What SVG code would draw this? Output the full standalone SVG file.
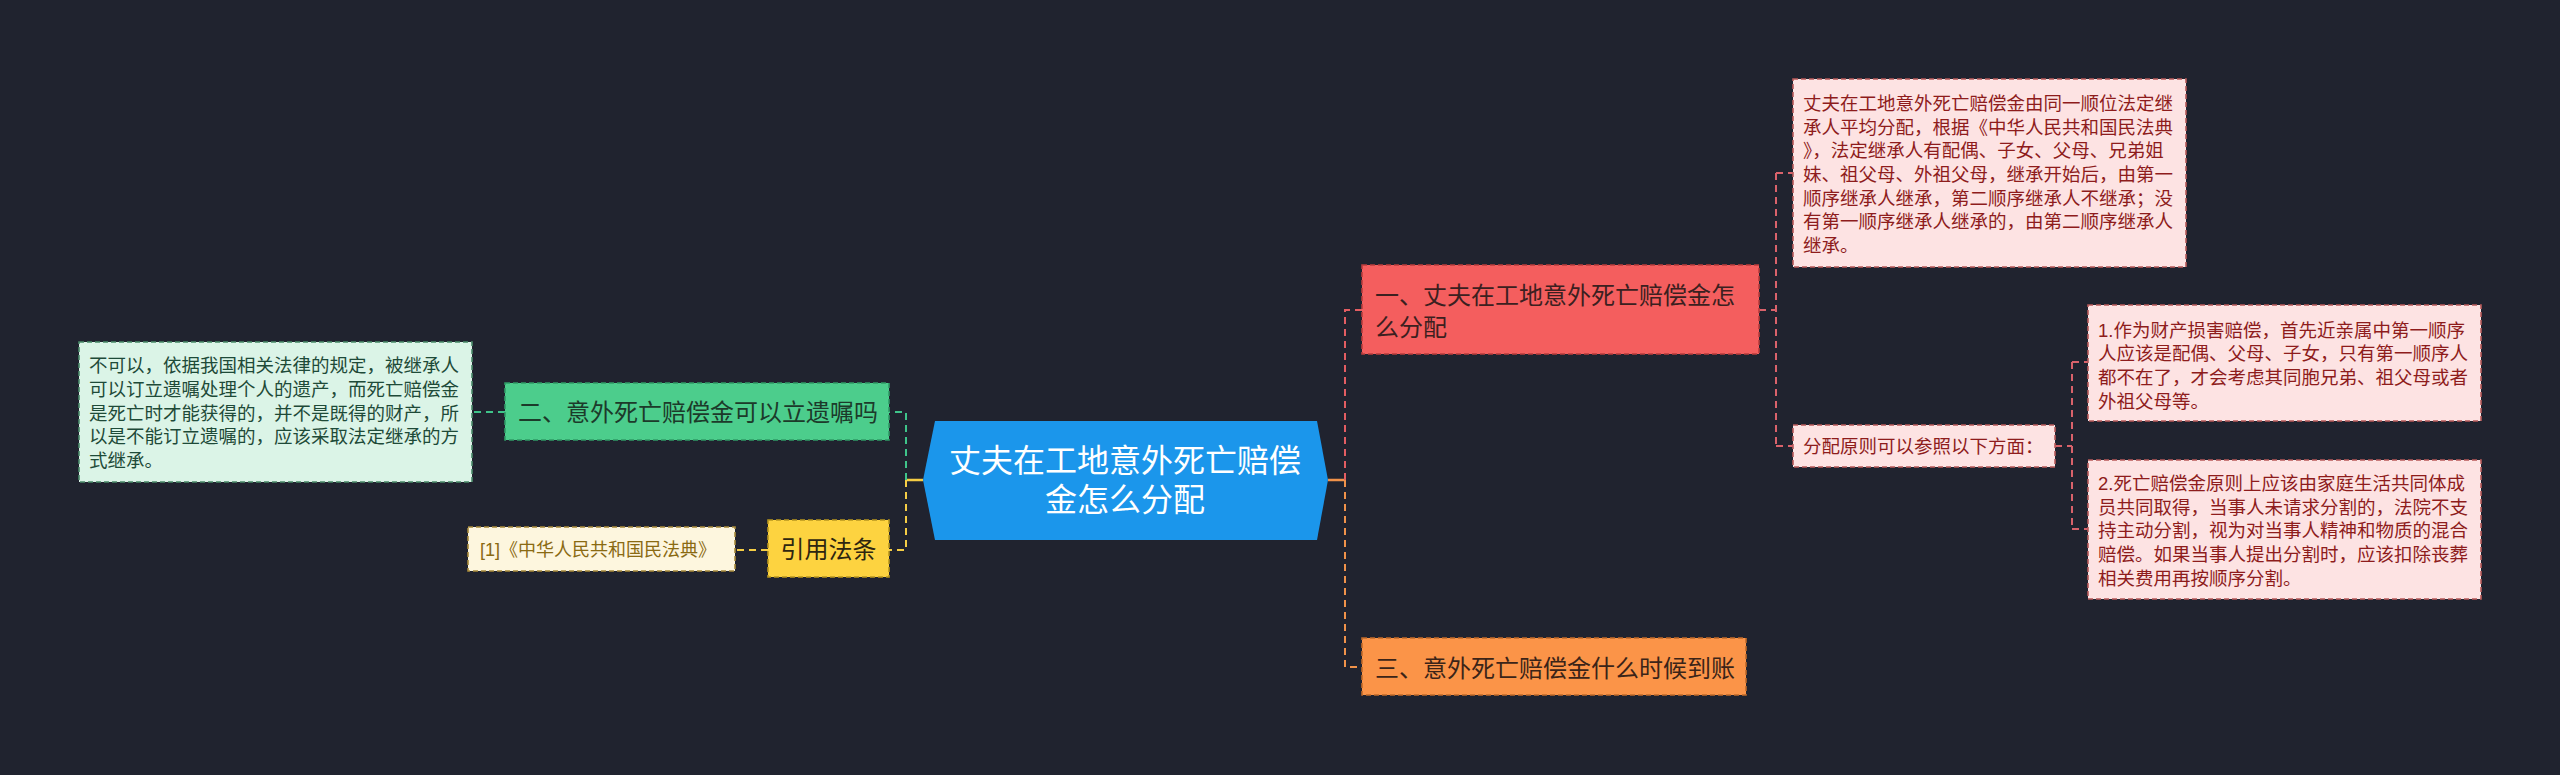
<svg xmlns="http://www.w3.org/2000/svg" width="2560" height="775" viewBox="0 0 2560 775">
<style>
text{font-family:"Liberation Sans","Noto Sans CJK SC",sans-serif;dominant-baseline:central;}
.conn{fill:none;stroke-width:2;stroke-dasharray:7 5;}
.solid{fill:none;stroke-width:2.5;}
.box{stroke-width:1.6;stroke-dasharray:5 3;}
.detail{font-size:18.5px;}
.lbl{font-size:24px;}
</style>
<rect width="2560" height="775" fill="#20232f"/>
<g id="connectors">
  <path class="solid" stroke="#f0924a" d="M1328 480H1345"/>
  <path class="conn" stroke="#e35d62" d="M1345 480V310H1362"/>
  <path class="conn" stroke="#f0924a" d="M1345 480V667H1362"/>
  <path class="solid" stroke="#f5cd45" d="M923 480H906"/>
  <path class="conn" stroke="#3fc48a" d="M906 480V412H889"/>
  <path class="conn" stroke="#f5cd45" d="M906 480V550H889"/>
  <path class="conn" stroke="#3fc48a" d="M505 412H472"/>
  <path class="conn" stroke="#f5cd45" d="M768 550H735"/>
  <path class="conn" stroke="#d9626b" d="M1759 310H1776M1776 173V446M1776 173H1793M1776 446H1793"/>
  <path class="conn" stroke="#d9626b" d="M2055 446H2072M2072 362V529M2072 362H2088M2072 529H2088"/>
</g>
<g id="root">
  <polygon points="923,480 935,421 1317,421 1328,480 1317,540 935,540" fill="#1b96eb"/>
  <text x="1125" y="461" font-size="32" fill="#ffffff" text-anchor="middle">丈夫在工地意外死亡赔偿</text>
  <text x="1125" y="500" font-size="32" fill="#ffffff" text-anchor="middle">金怎么分配</text>
</g>
<g id="n1">
  <rect class="box" x="1362" y="265" width="397" height="89" fill="#f45e5e" stroke="#b83c3c"/>
  <text class="lbl" x="1375" y="295" fill="#3b2020">一、丈夫在工地意外死亡赔偿金怎</text>
  <text class="lbl" x="1375" y="327" fill="#3b2020">么分配</text>
</g>
<g id="n1a">
  <rect class="box" x="1793" y="79" width="393" height="188" fill="#fde3e3" stroke="#b85a5a"/>
  <g class="detail" fill="#8e1c1c">
    <text x="1803" y="103.3">丈夫在工地意外死亡赔偿金由同一顺位法定继</text>
    <text x="1803" y="127">承人平均分配，根据《中华人民共和国民法典</text>
    <text x="1803" y="150.7">》，法定继承人有配偶、子女、父母、兄弟姐</text>
    <text x="1803" y="174.4">妹、祖父母、外祖父母，继承开始后，由第一</text>
    <text x="1803" y="198.1">顺序继承人继承，第二顺序继承人不继承；没</text>
    <text x="1803" y="221.8">有第一顺序继承人继承的，由第二顺序继承人</text>
    <text x="1803" y="245.5">继承。</text>
  </g>
</g>
<g id="n1b">
  <rect class="box" x="1793" y="425" width="262" height="42" fill="#fde3e3" stroke="#b85a5a"/>
  <text class="detail" x="1803" y="446.5" fill="#8e1c1c">分配原则可以参照以下方面：</text>
</g>
<g id="n1b1">
  <rect class="box" x="2088" y="305" width="393" height="116" fill="#fde3e3" stroke="#b85a5a"/>
  <g class="detail" fill="#8e1c1c">
    <text x="2098" y="330">1.作为财产损害赔偿，首先近亲属中第一顺序</text>
    <text x="2098" y="353.7">人应该是配偶、父母、子女，只有第一顺序人</text>
    <text x="2098" y="377.4">都不在了，才会考虑其同胞兄弟、祖父母或者</text>
    <text x="2098" y="401.1">外祖父母等。</text>
  </g>
</g>
<g id="n1b2">
  <rect class="box" x="2088" y="460" width="393" height="139" fill="#fde3e3" stroke="#b85a5a"/>
  <g class="detail" fill="#8e1c1c">
    <text x="2098" y="483.3">2.死亡赔偿金原则上应该由家庭生活共同体成</text>
    <text x="2098" y="507">员共同取得，当事人未请求分割的，法院不支</text>
    <text x="2098" y="530.7">持主动分割，视为对当事人精神和物质的混合</text>
    <text x="2098" y="554.4">赔偿。如果当事人提出分割时，应该扣除丧葬</text>
    <text x="2098" y="578.1">相关费用再按顺序分割。</text>
  </g>
</g>
<g id="n3">
  <rect class="box" x="1362" y="638" width="384" height="57" fill="#fb9448" stroke="#c06a2a"/>
  <text class="lbl" x="1375" y="668" fill="#3b2418">三、意外死亡赔偿金什么时候到账</text>
</g>
<g id="n2">
  <rect class="box" x="505" y="383" width="384" height="57" fill="#4ccd8c" stroke="#2f9a66"/>
  <text class="lbl" x="518" y="412.5" fill="#1c3a2a">二、意外死亡赔偿金可以立遗嘱吗</text>
</g>
<g id="n2a">
  <rect class="box" x="79" y="342" width="393" height="140" fill="#dbf4e7" stroke="#4a8a6a"/>
  <g class="detail" fill="#1e4a38">
    <text x="89" y="365.7">不可以，依据我国相关法律的规定，被继承人</text>
    <text x="89" y="389.4">可以订立遗嘱处理个人的遗产，而死亡赔偿金</text>
    <text x="89" y="413.1">是死亡时才能获得的，并不是既得的财产，所</text>
    <text x="89" y="436.8">以是不能订立遗嘱的，应该采取法定继承的方</text>
    <text x="89" y="460.5">式继承。</text>
  </g>
</g>
<g id="n4">
  <rect class="box" x="768" y="520" width="121" height="57" fill="#fdd340" stroke="#b8961e"/>
  <text class="lbl" x="828.5" y="549.5" fill="#2e2610" text-anchor="middle">引用法条</text>
</g>
<g id="n4a">
  <rect class="box" x="468" y="527" width="267" height="44" fill="#fdf6de" stroke="#a88a3a"/>
  <text x="480" y="549.5" font-size="18" fill="#8a6a12">[1]《中华人民共和国民法典》</text>
</g>
</svg>
